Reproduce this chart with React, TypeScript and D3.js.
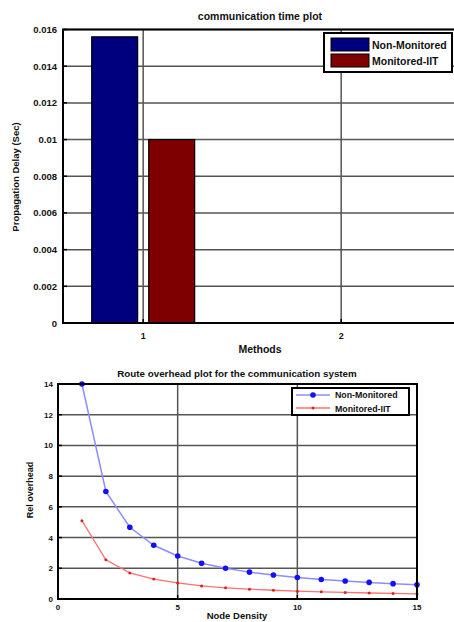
import React, { useEffect, useRef } from 'react';
import * as d3 from 'd3';

// top chart data
const methods = [1, 2];
const nonMonitoredDelay = [0.0156, 0];
const monitoredDelay = [0.01, 0];
const delayTicks = [0, 0.002, 0.004, 0.006, 0.008, 0.01, 0.012, 0.014, 0.016];
const delayTickLabels = ['0', '0.002', '0.004', '0.006', '0.008', '0.01', '0.012', '0.014', '0.016'];

// bottom chart data
const nodeDensity = [1, 2, 3, 4, 5, 6, 7, 8, 9, 10, 11, 12, 13, 14, 15];
const nonMonitoredOverhead = [14, 7, 4.67, 3.5, 2.8, 2.33, 2, 1.75, 1.56, 1.4, 1.27, 1.17, 1.08, 1, 0.93];
const monitoredOverhead = [5.1, 2.55, 1.7, 1.3, 1.05, 0.85, 0.73, 0.64, 0.57, 0.51, 0.47, 0.43, 0.39, 0.36, 0.34];
const densityTicks = [0, 5, 10, 15];
const overheadTicks = [0, 2, 4, 6, 8, 10, 12, 14];

const seriesNames = ['Non-Monitored', 'Monitored-IIT'];
const FONT = '"Liberation Sans", Arial, sans-serif';

const App = () => {
  const ref = useRef<SVGSVGElement>(null);

  useEffect(() => {
    const svg = d3.select(ref.current);
    svg.selectAll('*').remove();
    svg.append('rect').attr('width', 454).attr('height', 622).attr('fill', '#fff');

    const text = (g: any, x: number, y: number, s: string, anchor = 'middle', size = 9) =>
      g.append('text')
        .attr('x', x).attr('y', y)
        .attr('text-anchor', anchor)
        .attr('font-family', FONT)
        .attr('font-size', size)
        .attr('font-weight', 'bold')
        .attr('fill', '#111')
        .text(s);

    // ---------- top: bar chart ----------
    const top = svg.append('g');
    const x1 = d3.scaleLinear().domain([0.595, 2.585]).range([63, 457]);
    const y1 = d3.scaleLinear().domain([0, 0.016]).range([323, 29.5]);

    // grid
    top.selectAll('.hgrid').data(delayTicks.slice(1)).enter().append('line')
      .attr('x1', x1.range()[0]).attr('x2', x1.range()[1])
      .attr('y1', d => y1(d)).attr('y2', d => y1(d))
      .attr('stroke', '#555').attr('stroke-width', 1.5);
    top.selectAll('.vgrid').data(methods).enter().append('line')
      .attr('x1', d => x1(d)).attr('x2', d => x1(d))
      .attr('y1', y1.range()[0]).attr('y2', y1.range()[1])
      .attr('stroke', '#555').attr('stroke-width', 1.5);

    const offset = 0.144;
    const bw = 0.232;
    const drawBars = (vals: number[], dx: number, color: string) => {
      top.selectAll(null).data(vals.map((v, i) => ({ m: methods[i], v })).filter(d => d.v > 0))
        .enter().append('rect')
        .attr('x', d => x1(d.m + dx - bw / 2))
        .attr('width', x1(bw) - x1(0))
        .attr('y', d => y1(d.v))
        .attr('height', d => y1(0) - y1(d.v))
        .attr('fill', color).attr('stroke', '#000').attr('stroke-width', 1.2);
    };
    drawBars(nonMonitoredDelay, -offset, '#00007f');
    drawBars(monitoredDelay, offset, '#7f0000');

    // frame
    top.append('rect')
      .attr('x', x1.range()[0]).attr('y', y1.range()[1])
      .attr('width', x1.range()[1] - x1.range()[0])
      .attr('height', y1.range()[0] - y1.range()[1])
      .attr('fill', 'none').attr('stroke', '#000').attr('stroke-width', 2);

    // ticks and labels
    delayTicks.forEach((t, i) => {
      top.append('line').attr('x1', 63).attr('x2', 67).attr('y1', y1(t)).attr('y2', y1(t)).attr('stroke', '#000').attr('stroke-width', 1.5);
      text(top, 57, y1(t) + 3.5, delayTickLabels[i], 'end', 9.5);
    });
    methods.forEach(m => {
      top.append('line').attr('x1', x1(m)).attr('x2', x1(m)).attr('y1', 323).attr('y2', 319).attr('stroke', '#000').attr('stroke-width', 1.5);
      text(top, x1(m), 339, String(m), 'middle', 9);
    });
    text(top, 260, 20, 'communication time plot', 'middle', 10.5);
    text(top, 260, 353, 'Methods', 'middle', 10.5);
    text(top, 0, 0, 'Propagation Delay (Sec)', 'middle', 9.5)
      .attr('transform', 'translate(19,177) rotate(-90)');

    // legend
    const lg = top.append('g');
    lg.append('rect').attr('x', 324).attr('y', 33).attr('width', 128).attr('height', 39)
      .attr('fill', '#fff').attr('stroke', '#000').attr('stroke-width', 2);
    [['#00007f', 38], ['#7f0000', 54]].forEach(([c, yy], i) => {
      lg.append('rect').attr('x', 331).attr('y', yy as number).attr('width', 38).attr('height', 13)
        .attr('fill', c as string).attr('stroke', '#000').attr('stroke-width', 1);
      text(lg, 372, (yy as number) + 10.5, seriesNames[i], 'start', 10.5);
    });

    // ---------- bottom: line chart ----------
    const bot = svg.append('g');
    const x2 = d3.scaleLinear().domain([0, 15]).range([58, 417]);
    const y2 = d3.scaleLinear().domain([0, 14]).range([599, 384]);

    bot.selectAll(null).data(overheadTicks.slice(1, -1)).enter().append('line')
      .attr('x1', 58).attr('x2', 417)
      .attr('y1', d => y2(d)).attr('y2', d => y2(d))
      .attr('stroke', '#555').attr('stroke-width', 1.5);
    bot.selectAll(null).data(densityTicks.slice(1, -1)).enter().append('line')
      .attr('x1', d => x2(d)).attr('x2', d => x2(d))
      .attr('y1', 384).attr('y2', 599)
      .attr('stroke', '#555').attr('stroke-width', 1.5);

    const line = d3.line<number>().x((_, i) => x2(nodeDensity[i])).y(d => y2(d));
    bot.append('path').attr('d', line(nonMonitoredOverhead)).attr('fill', 'none')
      .attr('stroke', '#8c8cff').attr('stroke-width', 1.5);
    bot.append('path').attr('d', line(monitoredOverhead)).attr('fill', 'none')
      .attr('stroke', '#ff7070').attr('stroke-width', 1.3);
    bot.selectAll(null).data(nonMonitoredOverhead).enter().append('circle')
      .attr('cx', (_, i) => x2(nodeDensity[i])).attr('cy', d => y2(d)).attr('r', 2.8)
      .attr('fill', '#1010ff');
    bot.selectAll(null).data(monitoredOverhead).enter().append('circle')
      .attr('cx', (_, i) => x2(nodeDensity[i])).attr('cy', d => y2(d)).attr('r', 1.5)
      .attr('fill', '#e02020');

    bot.append('rect').attr('x', 58).attr('y', 384).attr('width', 359).attr('height', 215)
      .attr('fill', 'none').attr('stroke', '#000').attr('stroke-width', 2);

    overheadTicks.forEach(t => {
      bot.append('line').attr('x1', 58).attr('x2', 62).attr('y1', y2(t)).attr('y2', y2(t)).attr('stroke', '#000').attr('stroke-width', 1.5);
      text(bot, 53, y2(t) + 3, String(t), 'end', 8);
    });
    densityTicks.forEach(t => {
      bot.append('line').attr('x1', x2(t)).attr('x2', x2(t)).attr('y1', 599).attr('y2', 595).attr('stroke', '#000').attr('stroke-width', 1.5);
      text(bot, x2(t), 610, String(t), 'middle', 8);
    });
    text(bot, 237, 377, 'Route overhead plot for the communication system', 'middle', 9.8);
    text(bot, 237, 619, 'Node Density', 'middle', 9.5);
    text(bot, 0, 0, 'Rel overhead', 'middle', 9)
      .attr('transform', 'translate(33,490) rotate(-90)');

    const lg2 = bot.append('g');
    lg2.append('rect').attr('x', 292).attr('y', 388).attr('width', 117).attr('height', 27)
      .attr('fill', '#fff').attr('stroke', '#000').attr('stroke-width', 2);
    lg2.append('line').attr('x1', 296).attr('x2', 330).attr('y1', 395).attr('y2', 395).attr('stroke', '#8c8cff').attr('stroke-width', 1.5);
    lg2.append('circle').attr('cx', 313).attr('cy', 395).attr('r', 2.8).attr('fill', '#1010ff');
    lg2.append('line').attr('x1', 296).attr('x2', 330).attr('y1', 408).attr('y2', 408).attr('stroke', '#ff7070').attr('stroke-width', 1.3);
    lg2.append('circle').attr('cx', 313).attr('cy', 408).attr('r', 1.5).attr('fill', '#e02020');
    text(lg2, 335, 398, seriesNames[0], 'start', 8.8);
    text(lg2, 335, 411.5, seriesNames[1], 'start', 8.8);
  }, []);

  return (
    <svg ref={ref} width={454} height={622}
      style={{ position: 'absolute', left: 0, top: 0, display: 'block' }} />
  );
};

export default App;
